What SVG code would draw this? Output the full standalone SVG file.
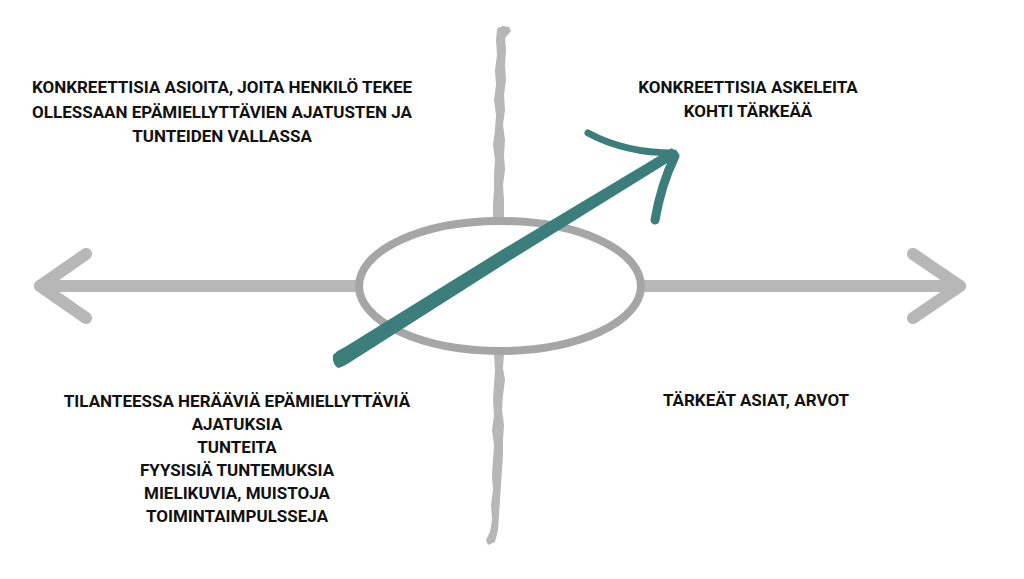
<svg xmlns="http://www.w3.org/2000/svg" width="1024" height="579" viewBox="0 0 1024 579">
<style>
.bg{fill:#ffffff}
.axis{fill:none;stroke:#b7b7b7;stroke-width:12;stroke-linecap:round;stroke-linejoin:round}
.rough{fill:#b7b7b7}
.ring{fill:none;stroke:#a6a6a6;stroke-width:8}
.teal{fill:#3b7e7c}
.tealS{fill:none;stroke:#3b7e7c;stroke-linecap:round;stroke-linejoin:round}
.lbl{font-family:Roboto,"Liberation Sans",sans-serif;font-weight:700;font-size:17px;fill:#111111;text-anchor:middle}
</style>
<rect class="bg" x="0" y="0" width="1024" height="579"/>
<g id="connectors">
  <g id="axis-left">
    <line class="axis" x1="357" y1="286" x2="40" y2="286"/>
    <polyline class="axis" points="86,254 40,286 86,318"/>
  </g>
  <g id="axis-right">
    <line class="axis" x1="643" y1="286" x2="960" y2="286"/>
    <polyline class="axis" points="913,254 960,286 913,318"/>
  </g>
  <path id="axis-top" class="rough" d="M497,30 L496,40 L497,55 L495,70 L496,85 L494,100 L496,115 L495,130 L493,145 L495,160 L494,175 L494,190 L493,205 L493,218 L504,218 L504,200 L503,185 L505,170 L504,155 L505,140 L503,125 L505,110 L504,95 L506,80 L505,65 L506,50 L505,38 L511,31 L509,27 L503,26 L498,28 Z"/>
  <path id="axis-bottom" class="rough" d="M494,354 L495,370 L494,385 L493,400 L494,415 L492,430 L494,445 L493,460 L492,475 L493,490 L491,505 L492,520 L490,532 L486,540 L488,545 L495,542 L498,530 L499,515 L500,500 L501,485 L502,470 L503,455 L503,440 L504,425 L502,410 L503,395 L505,380 L503,368 L504,354 Z"/>
</g>
<g id="center">
  <ellipse class="ring" cx="500" cy="286" rx="141" ry="65"/>
</g>
<g id="growth-arrow">
  <path class="teal" d="M333,355 Q338,350 345,347 L500,251 L672,148 L677,157 L506,263 L352,361 Q343,367 338,368 Q332,364 333,355 Z"/>
  <path class="tealS" stroke-width="7" d="M588,133 Q625,153 674,153"/>
  <path class="tealS" stroke-width="9" d="M675,156 Q661,185 655,220"/>
</g>
<g id="label-top-left">
  <text class="lbl" x="222" y="93">KONKREETTISIA ASIOITA, JOITA HENKILÖ TEKEE</text>
  <text class="lbl" x="222" y="118">OLLESSAAN EPÄMIELLYTTÄVIEN AJATUSTEN JA</text>
  <text class="lbl" x="222" y="142">TUNTEIDEN VALLASSA</text>
</g>
<g id="label-top-right">
  <text class="lbl" x="748" y="93">KONKREETTISIA ASKELEITA</text>
  <text class="lbl" x="748" y="117">KOHTI TÄRKEÄÄ</text>
</g>
<g id="label-bottom-left">
  <text class="lbl" x="237" y="407">TILANTEESSA HERÄÄVIÄ EPÄMIELLYTTÄVIÄ</text>
  <text class="lbl" x="237" y="430">AJATUKSIA</text>
  <text class="lbl" x="237" y="453">TUNTEITA</text>
  <text class="lbl" x="237" y="476">FYYSISIÄ TUNTEMUKSIA</text>
  <text class="lbl" x="237" y="499">MIELIKUVIA, MUISTOJA</text>
  <text class="lbl" x="237" y="522">TOIMINTAIMPULSSEJA</text>
</g>
<g id="label-bottom-right">
  <text class="lbl" x="756" y="406">TÄRKEÄT ASIAT, ARVOT</text>
</g>
</svg>
